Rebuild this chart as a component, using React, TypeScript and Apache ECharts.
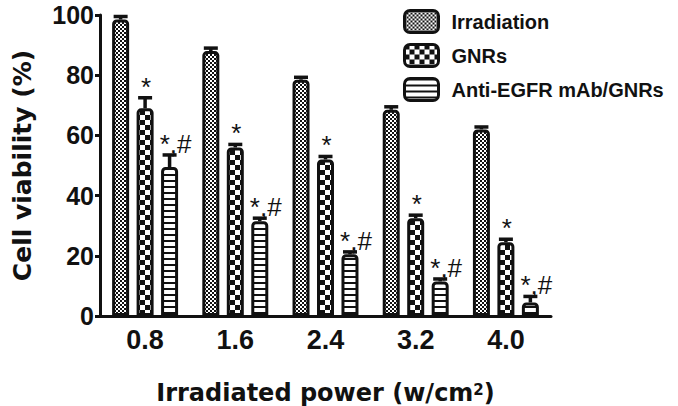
import React, { useEffect, useRef } from "react";
import * as echarts from "echarts";

const categories = ["0.8", "1.6", "2.4", "3.2", "4.0"];
const seriesNames = ["Irradiation", "GNRs", "Anti-EGFR mAb/GNRs"];
const irradiation = [98.5, 88, 78.5, 68.5, 62];
const irradiationErr = [1, 1, 0.8, 1, 0.8];
const gnrs = [69, 56, 52, 32.5, 24.5];
const gnrsErr = [3.5, 1, 1, 1, 1];
const anti = [49.5, 31.5, 20.5, 11.5, 4.5];
const antiErr = [4, 1, 0.8, 0.8, 2];
const gnrsMarks = ["*", "*", "*", "*", "*"];
const antiMarks = ["*,#", "*,#", "*,#", "*,#", "*,#"];
const yTicks = [0, 20, 40, 60, 80, 100];

const INK = "#111";
const BAR_W = 17;
const BAR_GAP = 0.44;

function makePattern(kind: string) {
  const c = document.createElement("canvas");
  let w = 4, h = 4;
  if (kind === "fine") { w = 4; h = 4; }
  if (kind === "coarse") { w = 10; h = 10; }
  if (kind === "stripe") { w = 6; h = 6; }
  c.width = w; c.height = h;
  const ctx = c.getContext("2d")!;
  ctx.fillStyle = "#fff";
  ctx.fillRect(0, 0, w, h);
  ctx.fillStyle = INK;
  if (kind === "fine") {
    ctx.fillRect(0, 0, 2, 2);
    ctx.fillRect(2, 2, 2, 2);
  } else if (kind === "coarse") {
    ctx.fillRect(0, 0, 5, 5);
    ctx.fillRect(5, 5, 5, 5);
  } else {
    ctx.fillRect(0, 0, w, 2);
  }
  return { image: c.toDataURL(), repeat: "repeat", imageWidth: w, imageHeight: h };
}

export default function App() {
  const ref = useRef<HTMLDivElement>(null);
  useEffect(() => {
    if (!ref.current) return;
    const chart = echarts.init(ref.current, null, { renderer: "svg" });
    const patterns = [makePattern("fine"), makePattern("coarse"), makePattern("stripe")];
    const values = [irradiation, gnrs, anti];
    const errs = [irradiationErr, gnrsErr, antiErr];
    const marks = [null, gnrsMarks, antiMarks];
    const markDx = [0, 1, 6];

    const barSeries = values.map((vals, k) => ({
      type: "bar",
      name: seriesNames[k],
      data: vals,
      barWidth: BAR_W,
      barGap: BAR_GAP * 100 + "%",
      itemStyle: {
        color: patterns[k],
        borderColor: INK,
        borderWidth: 3,
        borderRadius: [3, 3, 0, 0],
      },
      z: 2,
    }));

    const errSeries = values.map((vals, k) => ({
      type: "custom",
      name: "err" + k,
      z: 5,
      data: vals.map((v, i) => [i, v, errs[k][i]]),
      encode: { x: 0, y: 1 },
      renderItem: (params: any, api: any) => {
        const i = api.value(0);
        const v = api.value(1);
        const e = api.value(2);
        const p0 = api.coord([i, v]);
        const p1 = api.coord([i, v + e]);
        const off = (k - 1) * BAR_W * (1 + BAR_GAP);
        const x = p0[0] + off;
        const children: any[] = [
          { type: "line", shape: { x1: x, y1: p0[1], x2: x, y2: p1[1] }, style: { stroke: INK, lineWidth: 3.5 } },
          { type: "line", shape: { x1: x - 7, y1: p1[1], x2: x + 7, y2: p1[1] }, style: { stroke: INK, lineWidth: 3.5 } },
        ];
        const m = marks[k];
        if (m) {
          children.push({
            type: "text",
            x: x + markDx[k],
            y: p1[1] + 2,
            style: {
              text: m[params.dataIndex],
              font: '26px "Liberation Sans", Arial, sans-serif',
              fill: INK,
              align: "center",
              verticalAlign: "bottom",
              textAlign: "center",
              textVerticalAlign: "bottom",
            },
          });
        }
        return { type: "group", children };
      },
    }));

    chart.setOption({
      animation: false,
      backgroundColor: "#fff",
      grid: { left: 100, right: 127, top: 15, bottom: 90, containLabel: false, outerBoundsMode: "none" },
      legend: {
        data: seriesNames,
        orient: "vertical",
        left: 403,
        top: 9,
        padding: 0,
        itemWidth: 34,
        itemHeight: 22,
        itemGap: 9,
        icon: "roundRect",
        itemStyle: { borderColor: INK, borderWidth: 3 },
        textStyle: {
          fontFamily: '"Liberation Sans", Arial, sans-serif',
          fontWeight: "bold",
          fontSize: 20,
          color: INK,
          padding: [0, 0, 0, 8],
        },
      },
      xAxis: {
        type: "category",
        data: categories,
        name: "Irradiated power (w/cm{sup|2})",
        nameLocation: "middle",
        nameGap: 66,
        nameTextStyle: {
          fontFamily: '"DejaVu Sans", sans-serif',
          fontWeight: "bold",
          fontSize: 24,
          lineHeight: 22,
          color: INK,
          rich: {
            sup: {
              fontFamily: '"DejaVu Sans", sans-serif',
              fontWeight: "bold",
              fontSize: 15,
              lineHeight: 15,
              color: INK,
              verticalAlign: "top",
            },
          },
        },
        axisLine: { lineStyle: { color: INK, width: 3 } },
        axisTick: { alignWithLabel: true, length: 6, lineStyle: { color: INK, width: 3 } },
        axisLabel: {
          margin: 10,
          fontFamily: '"Liberation Sans", Arial, sans-serif',
          fontWeight: "bold",
          fontSize: 27,
          color: INK,
        },
      },
      yAxis: {
        type: "value",
        min: yTicks[0],
        max: yTicks[yTicks.length - 1],
        interval: yTicks[1] - yTicks[0],
        name: "Cell viability (%)",
        nameLocation: "middle",
        nameGap: 65,
        nameTextStyle: {
          fontFamily: '"DejaVu Sans", sans-serif',
          fontWeight: "bold",
          fontSize: 25,
          color: INK,
        },
        axisLine: { show: true, lineStyle: { color: INK, width: 3 } },
        axisTick: { show: true, length: 5, lineStyle: { color: INK, width: 3 } },
        splitLine: { show: false },
        axisLabel: {
          margin: 6,
          fontFamily: '"Liberation Sans", Arial, sans-serif',
          fontWeight: "bold",
          fontSize: 25,
          color: INK,
        },
      },
      series: [...barSeries, ...errSeries],
    });
    return () => chart.dispose();
  }, []);
  return (
    <div
      ref={ref}
      style={{ position: "absolute", left: 0, top: 0, width: 678, height: 406, background: "#fff" }}
    />
  );
}
